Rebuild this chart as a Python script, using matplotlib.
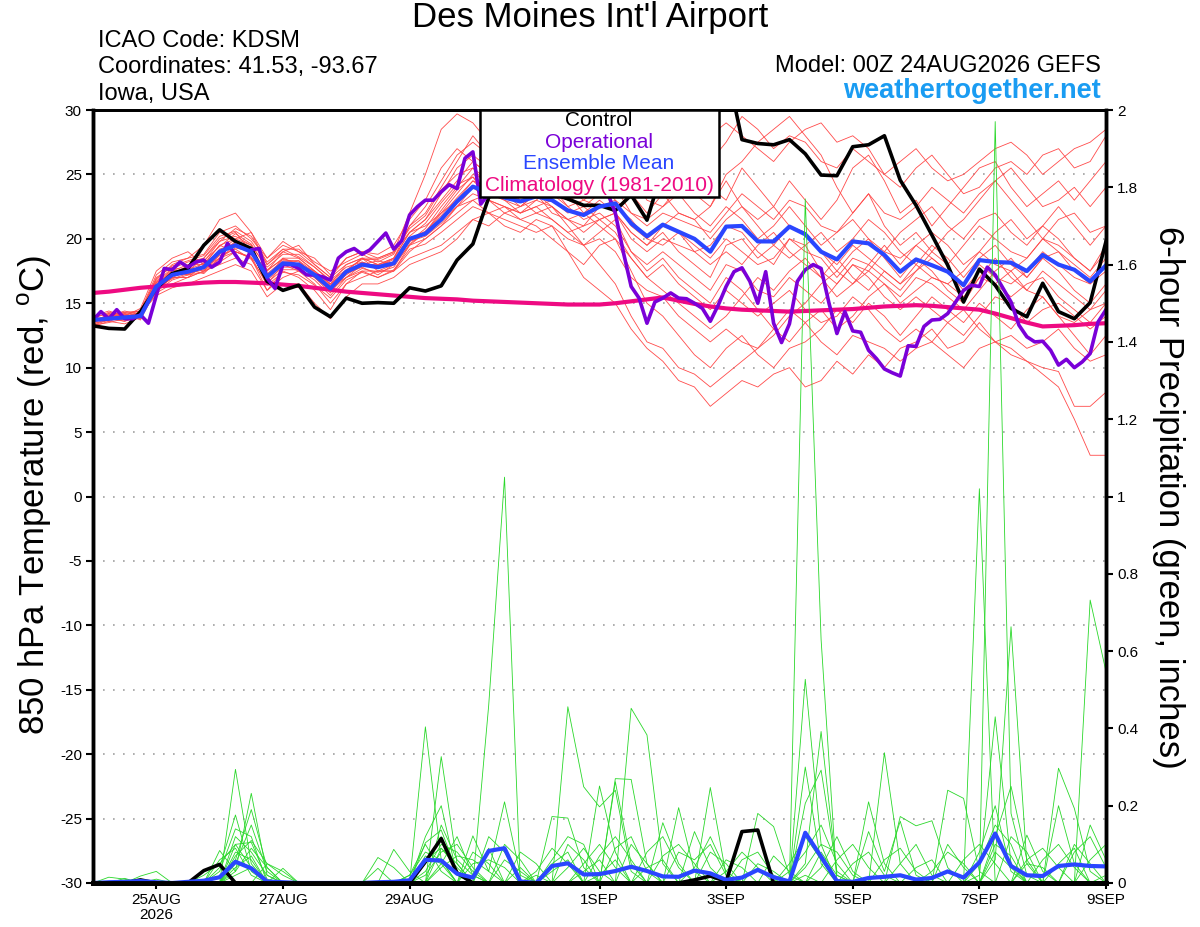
import numpy as np
import pandas as pd
import matplotlib
matplotlib.use('Agg')
import matplotlib.pyplot as plt
from matplotlib.patches import Rectangle

plt.rcParams['font.family'] = ['Liberation Sans', 'DejaVu Sans']
plt.rcParams['axes.unicode_minus'] = False

# 6-hourly ensemble times, 3-hourly operational run
times = pd.date_range('2026-08-24 00:00', periods=65, freq='6h')
times_op = pd.date_range('2026-08-24 00:00', periods=129, freq='3h')

# ensemble member 850 hPa temperature (C)
members_t = [
    [13.5, 14.0, 14.2, 14.4, 16.8, 18.0, 18.5, 19.5, 21.5, 22.0, 20.5, 18.5, 19.5,
     19.0, 18.0, 17.0, 18.5, 19.0, 18.5, 19.0, 22.0, 25.0, 28.5, 29.7, 29.0, 27.5,
     28.0, 27.0, 26.5, 27.5, 26.0, 25.5, 27.0, 26.0, 24.5, 23.5, 25.0, 26.5, 27.0,
     26.0, 27.5, 29.5, 28.5, 27.0, 28.0, 27.5, 26.0, 25.5, 27.0, 26.0, 25.0, 24.0,
     25.5, 26.5, 25.0, 23.5, 24.0, 25.5, 26.0, 25.0, 26.5, 27.0, 25.5, 26.0, 28.0],
    [13.8, 13.6, 14.0, 13.9, 16.0, 17.0, 17.0, 17.5, 18.5, 19.0, 18.5, 16.0, 17.5,
     17.0, 16.0, 14.5, 16.5, 17.5, 17.0, 17.5, 19.0, 20.0, 21.0, 22.5, 23.0, 22.0,
     21.0, 20.5, 21.5, 21.0, 19.0, 17.0, 16.0, 15.0, 13.0, 11.5, 10.5, 9.0, 8.5,
     7.0, 8.0, 9.0, 8.5, 9.5, 10.0, 8.5, 9.0, 10.5, 9.5, 11.0, 10.0, 11.5,
     12.0, 13.0, 11.5, 12.0, 13.5, 12.0, 11.0, 10.5, 10.0, 9.7, 7.0, 7.0, 8.1],
    [13.4, 13.8, 13.6, 14.2, 16.5, 17.5, 18.0, 18.0, 19.5, 20.0, 19.5, 17.0, 18.5,
     18.5, 17.5, 16.5, 17.5, 18.5, 18.0, 18.5, 20.5, 21.0, 22.0, 23.5, 25.0, 24.5,
     24.0, 23.5, 24.0, 23.5, 22.5, 21.5, 22.0, 21.0, 19.0, 17.5, 18.5, 17.0, 16.0,
     15.0, 17.0, 16.0, 14.5, 13.0, 14.5, 13.5, 12.0, 11.0, 12.5, 12.0, 11.5, 10.5,
     11.5, 12.0, 11.0, 10.0, 11.5, 12.0, 11.5, 10.5, 9.5, 8.5, 6.0, 3.2, 3.2],
    [13.9, 14.2, 14.0, 14.3, 17.0, 17.8, 17.5, 18.5, 20.0, 20.5, 19.0, 17.5, 19.0,
     18.5, 17.5, 16.5, 18.0, 18.5, 18.0, 18.5, 21.0, 22.0, 24.0, 26.0, 28.0, 26.5,
     25.5, 26.0, 27.0, 26.0, 25.0, 24.0, 25.5, 26.0, 25.0, 23.0, 22.5, 24.0, 25.5,
     24.0, 23.0, 25.5, 24.0, 22.5, 24.5, 23.0, 21.5, 23.0, 25.5, 26.5, 24.5, 22.0,
     23.0, 21.0, 22.5, 24.0, 25.5, 26.0, 24.0, 22.5, 23.5, 24.5, 23.0, 24.5, 26.0],
    [13.6, 13.9, 14.1, 13.8, 16.2, 17.0, 17.5, 17.8, 18.5, 19.5, 19.0, 16.5, 18.0,
     18.0, 17.0, 16.0, 17.0, 17.5, 17.5, 17.5, 19.5, 20.5, 21.5, 22.5, 23.5, 23.0,
     22.5, 22.0, 22.5, 23.0, 22.0, 22.5, 21.5, 22.0, 20.5, 19.5, 20.5, 19.0, 18.0,
     17.0, 19.5, 20.0, 18.5, 19.5, 21.0, 20.5, 19.0, 17.5, 19.0, 20.0, 18.5, 17.0,
     18.5, 17.5, 16.0, 15.0, 17.0, 16.5, 17.5, 16.0, 17.5, 16.5, 15.5, 14.5, 16.0],
    [13.3, 13.5, 13.8, 14.0, 15.8, 16.5, 17.0, 17.5, 18.0, 18.5, 18.0, 16.0, 17.0,
     17.5, 16.5, 15.0, 16.5, 17.0, 17.5, 17.5, 18.5, 19.0, 19.5, 20.5, 21.5, 21.0,
     22.0, 21.5, 21.0, 20.0, 19.0, 18.0, 19.5, 20.0, 17.5, 15.0, 14.0, 12.5, 11.0,
     10.0, 11.5, 12.5, 11.0, 10.0, 11.5, 12.0, 13.0, 14.5, 13.5, 15.0, 14.0, 12.5,
     14.0, 15.5, 14.5, 13.5, 15.0, 14.0, 13.0, 14.5, 15.5, 14.0, 12.5, 11.0, 12.5],
    [14.0, 14.4, 14.0, 14.6, 17.5, 18.5, 19.0, 18.0, 19.0, 20.0, 20.5, 18.0, 19.0,
     19.5, 18.0, 17.0, 18.0, 18.5, 18.5, 19.0, 20.5, 21.5, 23.0, 24.5, 26.0, 25.0,
     24.0, 24.5, 25.5, 25.0, 24.0, 23.0, 24.0, 25.0, 23.5, 22.0, 23.5, 22.0, 21.5,
     22.5, 25.0, 26.0, 27.5, 28.5, 29.5, 28.0, 26.5, 24.0, 22.0, 23.5, 21.0, 19.5,
     20.5, 19.0, 18.0, 19.5, 21.0, 20.0, 19.0, 18.5, 20.0, 21.5, 22.0, 20.5, 21.0],
    [13.2, 13.6, 13.4, 13.9, 16.0, 17.0, 17.0, 18.0, 19.5, 19.0, 18.5, 17.5, 18.5,
     18.0, 17.5, 16.5, 17.5, 18.5, 17.5, 18.0, 20.0, 20.5, 22.0, 23.0, 24.5, 24.0,
     23.5, 22.5, 23.5, 22.5, 21.5, 21.0, 22.5, 23.0, 21.0, 20.0, 21.0, 20.5, 19.5,
     18.5, 20.0, 19.0, 18.0, 18.5, 20.0, 19.5, 17.5, 16.5, 18.0, 17.5, 16.5, 15.5,
     17.0, 16.5, 15.5, 14.5, 16.0, 17.5, 18.5, 17.0, 18.5, 19.0, 18.0, 17.0, 18.5],
    [13.7, 14.0, 13.7, 14.1, 16.4, 17.3, 17.8, 17.5, 18.8, 19.8, 19.2, 17.0, 18.2,
     18.3, 17.0, 16.2, 17.2, 18.0, 18.0, 18.2, 19.8, 20.8, 22.5, 24.0, 25.5, 24.0,
     23.5, 23.0, 22.0, 22.5, 21.0, 19.5, 18.0, 16.5, 14.0, 12.0, 11.5, 10.0, 9.5,
     8.5, 9.5, 10.5, 11.5, 13.0, 12.0, 13.5, 14.5, 13.0, 14.0, 15.5, 16.5, 15.0,
     16.0, 17.0, 16.5, 15.5, 17.0, 18.5, 17.0, 16.0, 15.5, 14.0, 13.5, 14.5, 15.0],
    [13.5, 14.1, 14.3, 14.0, 16.6, 17.6, 17.2, 18.2, 19.8, 20.2, 19.5, 17.8, 18.8,
     18.8, 17.8, 16.8, 17.8, 18.2, 17.8, 18.5, 20.5, 21.5, 23.5, 25.5, 26.5, 25.5,
     24.5, 24.0, 24.5, 24.0, 23.0, 22.5, 23.5, 24.0, 22.0, 21.0, 22.0, 21.5, 21.0,
     20.5, 22.0, 23.5, 22.5, 21.5, 23.0, 22.5, 21.0, 20.5, 22.0, 23.5, 22.0, 21.5,
     22.5, 24.0, 23.0, 22.0, 23.5, 24.5, 25.5, 24.0, 22.5, 23.0, 24.0, 22.5, 24.0],
    [13.4, 13.7, 13.9, 14.2, 15.6, 16.2, 16.5, 17.0, 17.5, 18.0, 17.5, 15.5, 16.5,
     16.5, 15.0, 13.8, 15.5, 16.5, 16.5, 17.0, 18.0, 18.5, 19.0, 20.0, 21.5, 22.0,
     21.5, 21.0, 20.5, 21.0, 20.0, 19.5, 20.5, 21.5, 19.0, 18.0, 19.0, 18.0, 17.0,
     16.0, 18.0, 17.5, 16.0, 15.5, 17.0, 16.0, 15.0, 16.5, 18.0, 17.0, 15.5, 14.5,
     15.5, 14.5, 13.5, 12.5, 14.0, 15.5, 15.0, 13.5, 14.5, 15.0, 14.0, 13.0, 14.0],
    [13.8, 14.3, 14.1, 14.4, 17.2, 18.2, 18.5, 18.8, 20.5, 21.0, 20.0, 18.5, 19.8,
     19.0, 18.5, 17.2, 18.5, 19.0, 18.8, 19.5, 21.5, 23.0, 25.5, 27.0, 26.0, 25.0,
     26.0, 26.5, 25.5, 26.5, 27.5, 26.0, 27.0, 28.0, 26.5, 25.0, 26.5, 25.0, 23.5,
     22.5, 24.5, 22.5, 21.5, 22.5, 21.0, 20.5, 19.0, 18.0, 19.5, 18.5, 17.5, 16.5,
     18.0, 17.0, 16.5, 17.5, 19.0, 18.0, 17.5, 18.5, 20.0, 19.5, 18.5, 17.5, 19.0],
    [13.6, 13.8, 14.2, 13.7, 16.1, 17.2, 17.6, 17.3, 18.5, 19.3, 19.0, 16.8, 17.8,
     17.8, 17.3, 16.3, 17.0, 18.0, 18.3, 18.0, 19.5, 20.0, 21.0, 22.0, 23.0, 23.5,
     23.0, 22.5, 23.0, 24.0, 22.5, 23.0, 22.5, 22.5, 21.5, 20.0, 19.5, 20.5, 19.0,
     18.0, 19.0, 18.0, 19.5, 20.5, 19.0, 18.0, 17.0, 18.5, 17.0, 16.0, 17.5, 16.5,
     17.5, 18.5, 17.5, 16.5, 18.0, 17.0, 16.5, 17.5, 19.0, 18.0, 17.0, 16.5, 17.5],
    [13.9, 13.7, 14.0, 14.2, 16.3, 17.4, 17.2, 17.8, 19.2, 19.6, 18.8, 17.2, 18.0,
     17.5, 17.0, 15.8, 17.3, 17.8, 17.2, 18.0, 19.8, 20.2, 21.2, 22.5, 24.0, 23.0,
     22.0, 22.5, 23.5, 22.0, 21.5, 22.0, 23.0, 22.0, 20.0, 19.0, 20.0, 19.5, 19.0,
     19.5, 21.0, 20.5, 19.0, 18.0, 20.0, 19.0, 18.5, 17.0, 18.5, 18.0, 17.0, 16.0,
     17.5, 19.0, 20.5, 21.5, 23.0, 24.5, 23.0, 21.5, 20.0, 19.0, 17.5, 16.5, 18.0],
    [13.5, 13.9, 13.6, 14.0, 15.9, 16.8, 17.2, 17.4, 18.2, 19.0, 18.6, 16.4, 17.4,
     17.2, 16.4, 15.4, 16.8, 17.4, 17.0, 17.6, 19.2, 19.6, 20.5, 21.5, 22.5, 22.0,
     22.5, 22.0, 22.5, 21.5, 20.5, 21.0, 21.5, 20.5, 18.5, 17.0, 18.0, 16.5, 15.5,
     14.5, 16.0, 15.0, 14.0, 15.0, 16.0, 14.5, 13.5, 14.0, 15.5, 14.5, 13.0, 12.0,
     13.0, 12.0, 13.5, 14.5, 13.0, 12.0, 12.5, 11.5, 12.0, 13.0, 11.5, 10.5, 11.0],
    [13.7, 14.0, 14.4, 14.1, 16.7, 17.7, 18.2, 18.5, 19.8, 20.8, 20.2, 18.2, 19.2,
     19.2, 18.2, 17.5, 18.2, 18.8, 18.2, 18.8, 21.0, 22.5, 24.5, 26.5, 27.5, 26.5,
     25.0, 25.5, 26.0, 25.5, 25.0, 24.0, 25.0, 24.5, 23.5, 24.0, 25.0, 26.5, 27.5,
     28.0, 29.0, 28.0, 27.0, 26.0, 27.5, 28.5, 29.0, 27.5, 28.0, 27.0, 25.0, 26.0,
     27.0, 25.5, 24.5, 25.0, 26.0, 27.0, 27.5, 26.5, 25.0, 26.0, 27.0, 27.5, 28.5],
    [13.6, 14.1, 13.9, 14.3, 16.9, 17.9, 18.3, 18.7, 20.2, 20.6, 19.8, 18.0, 19.2,
     18.6, 17.8, 16.7, 17.6, 18.4, 18.4, 18.9, 20.8, 21.8, 23.8, 25.0, 25.5, 24.5,
     24.0, 23.0, 23.5, 24.5, 23.5, 22.0, 21.0, 20.0, 18.5, 17.0, 16.0, 15.0, 14.0,
     13.0, 14.0, 15.5, 17.0, 16.0, 17.5, 18.5, 17.0, 15.5, 16.5, 18.0, 19.5, 18.0,
     19.5, 20.5, 19.5, 18.0, 19.0, 20.5, 21.5, 20.0, 21.0, 22.5, 21.0, 19.5, 21.0],
    [13.3, 13.7, 14.1, 13.9, 16.2, 16.9, 17.3, 17.6, 18.7, 19.2, 18.4, 16.6, 17.6,
     17.6, 16.8, 15.6, 17.0, 17.7, 17.4, 17.8, 19.6, 20.5, 22.2, 23.8, 24.8, 23.8,
     23.5, 24.5, 25.5, 24.5, 23.0, 23.5, 24.5, 23.0, 22.0, 21.5, 22.5, 23.5, 22.0,
     21.0, 22.5, 21.5, 20.0, 21.0, 22.5, 21.0, 19.5, 20.5, 21.5, 20.0, 19.0, 18.5,
     19.5, 18.5, 17.5, 16.0, 17.5, 16.5, 15.5, 16.5, 17.0, 15.5, 14.5, 13.5, 15.0],
    [13.9, 13.8, 14.3, 14.4, 16.6, 17.3, 17.9, 18.3, 19.4, 20.4, 19.6, 17.6, 18.4,
     18.2, 17.3, 16.0, 17.4, 18.2, 17.8, 18.4, 20.2, 21.2, 22.8, 24.2, 24.8, 23.0,
     22.5, 21.5, 22.0, 21.5, 20.5, 19.5, 20.0, 19.0, 17.0, 16.0, 15.5, 14.0, 13.0,
     12.0, 13.0, 12.0, 11.5, 12.5, 14.0, 15.0, 16.5, 17.5, 16.5, 17.5, 19.0, 20.5,
     21.5, 22.5, 21.0, 20.0, 21.5, 22.0, 20.5, 19.5, 21.0, 20.0, 18.5, 17.5, 19.5],
    [13.5, 14.2, 13.8, 14.0, 16.4, 17.5, 17.6, 18.1, 19.0, 19.7, 19.3, 17.3, 18.3,
     18.3, 17.4, 16.4, 17.4, 18.1, 17.9, 18.2, 20.0, 20.6, 21.8, 23.2, 24.5, 23.5,
     23.0, 22.0, 23.0, 22.5, 21.5, 20.5, 21.5, 22.0, 20.5, 19.5, 21.0, 22.0, 21.5,
     20.0, 21.5, 22.5, 21.0, 19.5, 18.5, 19.5, 20.5, 19.0, 20.0, 21.5, 20.5, 19.0,
     18.0, 19.5, 18.5, 17.0, 18.5, 19.5, 18.0, 17.0, 18.5, 17.5, 16.0, 15.0, 16.5],
]

# ensemble member 6-hour precipitation (inches), only the non-zero steps
members_p = [
    {1: 0.015, 2: 0.01, 9: 0.294, 10: 0.05, 21: 0.404, 22: 0.06, 30: 0.456, 31: 0.249,
     32: 0.197, 33: 0.24, 34: 0.03, 45: 0.05, 46: 0.392, 47: 0.02, 57: 0.06, 58: 0.663, 59: 0.05},
    {3: 0.018, 4: 0.03, 8: 0.04, 9: 0.176, 10: 0.03, 22: 0.327, 23: 0.05, 25: 0.46, 26: 1.05,
     34: 0.452, 35: 0.383, 36: 0.05, 45: 0.02, 50: 0.337, 51: 0.05, 63: 0.732, 64: 0.547},
    {8: 0.084, 9: 0.03, 10: 0.232, 11: 0.02, 21: 0.104, 22: 0.137, 23: 0.03, 29: 0.172,
     30: 0.168, 31: 0.04, 45: 1.77, 46: 0.63, 56: 0.02, 57: 0.43, 58: 0.05},
    {2: 0.012, 9: 0.06, 10: 0.19, 11: 0.04, 19: 0.087, 20: 0.03, 24: 0.122, 25: 0.03,
     26: 0.21, 27: 0.02, 32: 0.251, 33: 0.08, 45: 0.527, 46: 0.1, 56: 1.02, 61: 0.2, 62: 0.05},
    {7: 0.02, 8: 0.05, 9: 0.1, 10: 0.105, 11: 0.01, 18: 0.066, 19: 0.04, 21: 0.06, 22: 0.09,
     23: 0.04, 33: 0.262, 34: 0.05, 37: 0.195, 38: 0.03, 45: 0.206, 46: 0.292, 47: 0.03,
     57: 1.97, 58: 0.18, 59: 0.02},
    {9: 0.08, 10: 0.06, 18: 0.038, 21: 0.05, 22: 0.12, 23: 0.03, 25: 0.09, 28: 0.02,
     33: 0.27, 34: 0.268, 35: 0.05, 39: 0.247, 40: 0.02, 49: 0.21, 50: 0.05, 54: 0.24,
     55: 0.219, 56: 0.03, 61: 0.297, 62: 0.193, 63: 0.03},
    {9: 0.12, 10: 0.08, 11: 0.02, 20: 0.02, 21: 0.08, 22: 0.06, 24: 0.05, 25: 0.06, 26: 0.04,
     30: 0.1, 31: 0.06, 36: 0.156, 37: 0.05, 42: 0.18, 43: 0.146, 44: 0.02, 51: 0.172,
     52: 0.148, 53: 0.161, 54: 0.04, 59: 0.124, 60: 0.03},
    {8: 0.03, 9: 0.14, 10: 0.12, 12: 0.038, 21: 0.03, 22: 0.1, 23: 0.08, 24: 0.03, 26: 0.06,
     27: 0.03, 29: 0.05, 30: 0.08, 38: 0.133, 39: 0.04, 46: 0.08, 47: 0.02, 49: 0.133,
     50: 0.03, 51: 0.16, 52: 0.02, 57: 0.1, 58: 0.07, 62: 0.08, 63: 0.12, 64: 0.04},
    {4: 0.01, 9: 0.05, 10: 0.15, 11: 0.03, 21: 0.07, 22: 0.05, 25: 0.12, 26: 0.08, 32: 0.07,
     33: 0.12, 34: 0.06, 40: 0.06, 41: 0.04, 44: 0.05, 45: 0.12, 46: 0.06, 53: 0.03,
     54: 0.08, 55: 0.05, 60: 0.06, 61: 0.1, 62: 0.04},
    {9: 0.02, 10: 0.04, 22: 0.15, 23: 0.06, 24: 0.02, 27: 0.04, 29: 0.06, 30: 0.12, 31: 0.1,
     35: 0.08, 36: 0.12, 37: 0.04, 42: 0.05, 43: 0.03, 47: 0.06, 48: 0.1, 49: 0.04,
     56: 0.05, 57: 0.15, 58: 0.1, 63: 0.06, 64: 0.1},
    {8: 0.06, 9: 0.09, 10: 0.02, 21: 0.12, 22: 0.2, 23: 0.02, 31: 0.05, 32: 0.1, 33: 0.04,
     37: 0.08, 38: 0.06, 39: 0.1, 40: 0.02, 44: 0.03, 45: 0.08, 46: 0.15, 47: 0.05,
     55: 0.06, 56: 0.1, 57: 0.05, 59: 0.05, 60: 0.04},
    {3: 0.005, 9: 0.07, 10: 0.11, 11: 0.05, 12: 0.02, 22: 0.04, 23: 0.07, 24: 0.06, 25: 0.03,
     30: 0.04, 31: 0.09, 32: 0.03, 34: 0.1, 35: 0.05, 41: 0.06, 42: 0.08, 43: 0.02,
     50: 0.06, 51: 0.09, 52: 0.03, 58: 0.12, 59: 0.08, 63: 0.15, 64: 0.06},
    {9: 0.04, 10: 0.07, 21: 0.02, 22: 0.08, 23: 0.1, 24: 0.04, 26: 0.1, 27: 0.06, 32: 0.02,
     33: 0.06, 36: 0.07, 37: 0.1, 38: 0.05, 45: 0.04, 46: 0.1, 47: 0.08, 48: 0.02,
     54: 0.1, 55: 0.04, 57: 0.08, 58: 0.04, 61: 0.05, 62: 0.09},
    {9: 0.1, 10: 0.04, 22: 0.09, 23: 0.05, 28: 0.03, 29: 0.09, 30: 0.05, 35: 0.04, 36: 0.06,
     39: 0.08, 40: 0.05, 43: 0.07, 44: 0.03, 48: 0.05, 49: 0.08, 50: 0.02, 56: 0.08,
     57: 0.2, 58: 0.03, 62: 0.1, 63: 0.05},
    {11: 0.05, 12: 0.03, 20: 0.02, 21: 0.1, 22: 0.03, 24: 0.08, 25: 0.05, 29: 0.03, 30: 0.06,
     33: 0.09, 34: 0.12, 35: 0.03, 40: 0.03, 41: 0.08, 42: 0.04, 46: 0.04, 47: 0.12,
     48: 0.03, 52: 0.04, 53: 0.06, 57: 0.12, 58: 0.25, 59: 0.06, 64: 0.02},
    {9: 0.03, 10: 0.09, 11: 0.04, 22: 0.05, 23: 0.12, 24: 0.02, 27: 0.08, 28: 0.05, 31: 0.03,
     32: 0.06, 38: 0.04, 39: 0.12, 40: 0.03, 45: 0.3, 46: 0.05, 51: 0.05, 52: 0.1,
     53: 0.02, 59: 0.06, 60: 0.09, 61: 0.04},
]

control_t = [13.25, 13.05, 13.0, 14.35, 16.15, 17.3, 17.7, 19.5, 20.7, 19.8, 19.25, 16.7, 16.0,
             16.4, 14.7, 13.95, 15.4, 15.0, 15.05, 15.0, 16.2, 15.95, 16.35, 18.35, 19.6, 23.2,
             24.5, 25.0, 24.0, 23.5, 23.1, 22.6, 22.6, 22.2, 23.4, 21.45, 25.5, 28.0, 31.0,
             33.0, 33.5, 27.7, 27.4, 27.3, 27.7, 26.6, 24.95, 24.9, 27.15, 27.3, 28.0, 24.55,
             22.6, 20.3, 17.95, 15.1, 17.65, 16.4, 14.6, 13.95, 16.55, 14.35, 13.8, 15.05, 19.8]

mean_t = [13.7, 13.8, 13.9, 14.0, 16.3, 17.2, 17.45, 17.8, 19.0, 19.5, 19.0, 17.05, 18.1,
          18.0, 17.2, 16.15, 17.45, 18.0, 17.8, 18.1, 20.0, 20.4, 21.5, 22.9, 24.05, 23.6,
          23.2, 22.9, 23.3, 23.0, 22.2, 21.85, 22.5, 22.75, 21.2, 20.2, 21.1, 20.55, 20.0,
          19.0, 20.95, 21.0, 19.8, 19.8, 20.95, 20.35, 19.0, 18.4, 19.8, 19.65, 18.75, 17.45,
          18.4, 17.95, 17.45, 16.4, 18.35, 18.2, 18.15, 17.5, 18.75, 18.0, 17.6, 16.7, 17.95]

clim_t = [15.8, 15.9, 16.05, 16.2, 16.3, 16.4, 16.5, 16.6, 16.65, 16.65, 16.6, 16.55, 16.45,
          16.35, 16.2, 16.05, 15.9, 15.8, 15.7, 15.6, 15.5, 15.4, 15.35, 15.3, 15.2, 15.15,
          15.1, 15.05, 15.0, 14.95, 14.9, 14.9, 14.9, 15.0, 15.15, 15.3, 15.45, 15.2, 14.95,
          14.75, 14.6, 14.5, 14.45, 14.4, 14.35, 14.4, 14.45, 14.5, 14.55, 14.65, 14.75, 14.8,
          14.85, 14.8, 14.7, 14.6, 14.5, 14.2, 13.85, 13.5, 13.2, 13.25, 13.3, 13.4, 13.45]

oper_t = [13.7, 14.35, 13.8, 14.5, 13.8, 13.8, 14.1, 13.45, 15.6, 17.7,
          17.6, 18.2, 17.8, 18.2, 18.35, 17.8, 18.2, 19.65, 18.75, 17.9,
          19.15, 19.25, 16.95, 16.15, 18.0, 18.0, 17.7, 17.2, 17.2, 17.05,
          16.8, 18.5, 19.0, 19.25, 18.8, 19.15, 19.8, 20.45, 19.2, 19.85,
          21.85, 22.5, 23.0, 23.0, 23.65, 24.2, 23.9, 26.25, 26.75, 22.7,
          23.5, 24.0, 24.5, 25.0, 24.5, 24.0, 24.8, 25.5, 25.0, 24.2,
          24.6, 25.2, 24.5, 24.0, 23.8, 23.6, 22.0, 19.0, 16.3, 15.4,
          13.45, 15.1, 15.4, 15.8, 15.4, 15.35, 15.0, 14.6, 13.6, 14.85,
          16.3, 17.45, 17.75, 16.7, 15.0, 17.45, 13.45, 11.95, 13.4, 16.7,
          17.6, 18.0, 17.7, 15.0, 12.65, 14.35, 12.85, 12.75, 11.35, 10.7,
          9.9, 9.6, 9.35, 11.7, 11.65, 13.2, 13.7, 13.75, 14.2, 15.1,
          16.0, 16.4, 16.3, 17.8, 17.2, 16.15, 15.1, 13.3, 12.4, 12.0,
          12.05, 11.35, 10.2, 10.65, 10.0, 10.45, 11.1, 13.55, 14.5]

control_p = {3: 0.008, 7: 0.032, 8: 0.048, 21: 0.055, 22: 0.115, 23: 0.026,
             38: 0.008, 39: 0.018, 40: 0.004, 41: 0.133, 42: 0.137}

mean_p = [0.0, 0.002, 0.003, 0.005, 0.002, 0.0, 0.003, 0.006, 0.015, 0.055, 0.038, 0.004, 0.002,
          0.0, 0.0, 0.0, 0.0, 0.0, 0.002, 0.003, 0.007, 0.06, 0.058, 0.024, 0.014, 0.083,
          0.09, 0.004, 0.0, 0.044, 0.051, 0.022, 0.023, 0.031, 0.042, 0.031, 0.017, 0.016, 0.032,
          0.025, 0.008, 0.014, 0.034, 0.015, 0.004, 0.13, 0.068, 0.005, 0.003, 0.013, 0.016, 0.02,
          0.009, 0.013, 0.03, 0.014, 0.053, 0.128, 0.044, 0.02, 0.018, 0.044, 0.048, 0.044, 0.043]

date_ticks = ['2026-08-25', '2026-08-27', '2026-08-29', '2026-09-01',
              '2026-09-03', '2026-09-05', '2026-09-07', '2026-09-09']
date_labels = ['25AUG\n2026', '27AUG', '29AUG', '1SEP', '3SEP', '5SEP', '7SEP', '9SEP']
temp_ticks = list(range(-30, 31, 5))
precip_ticks = [0, 0.2, 0.4, 0.6, 0.8, 1.0, 1.2, 1.4, 1.6, 1.8, 2.0]
precip_labels = ['0', '0.2', '0.4', '0.6', '0.8', '1', '1.2', '1.4', '1.6', '1.8', '2']


def dense(d):
    a = np.zeros(len(times))
    for k, v in d.items():
        a[k] = v
    return a


W, H = 1200, 927
fig = plt.figure(figsize=(W / 100, H / 100), dpi=100)
ax = fig.add_axes([93 / W, 1 - 883 / H, (1106 - 93) / W, (883 - 110) / H])
ax2 = ax.twinx()

# temperature
ax.yaxis.grid(True, linestyle=(0, (1, 5)), color='#a0a0a0', linewidth=1.2)
ax.set_axisbelow(True)
for m in members_t:
    ax.plot(times, m, color='#ff4a4a', lw=0.6)
ax.plot(times, clim_t, color='#ee0a82', lw=3)
ax.plot(times, control_t, color='black', lw=2.6)
ax.plot(times_op, oper_t, color='#7a00d8', lw=2.6)
ax.plot(times, mean_t, color='#2a46ff', lw=3)

# precipitation
for m in members_p:
    ax2.plot(times, dense(m), color='#2ad82a', lw=0.6)
ax2.plot(times, dense(control_p), color='black', lw=2.6)
ax2.plot(times, mean_p, color='#2a46ff', lw=3)

ax.set_xlim(times[0], times[-1])
ax.set_ylim(-30, 30)
ax2.set_ylim(0, 2)

ax.set_yticks(temp_ticks)
ax.set_yticklabels([str(t) for t in temp_ticks])
ax2.set_yticks(precip_ticks)
ax2.set_yticklabels(precip_labels)
ax.set_xticks(pd.to_datetime(date_ticks))
ax.set_xticklabels(date_labels, fontsize=11, linespacing=1.1)

ax.tick_params(axis='y', direction='out', length=5, width=1.5, labelsize=11, pad=3)
ax.tick_params(axis='x', direction='out', length=4, width=1.5, pad=3)
ax2.tick_params(axis='y', direction='out', length=5, width=1.5, labelsize=11, pad=3)

for a in (ax, ax2):
    a.spines['left'].set_linewidth(2.5)
    a.spines['right'].set_linewidth(2.5)
    a.spines['top'].set_linewidth(2)
    a.spines['bottom'].set_linewidth(3.5)

# legend box
ax2.add_patch(Rectangle((0.382, 0.8875), 0.236, 0.1125, transform=ax2.transAxes,
                        facecolor='white', edgecolor='black', lw=1.8, zorder=10))
legend_items = [('Control', 'black', 0.9858), ('Operational', '#7a00d8', 0.9586),
                ('Ensemble Mean', '#2a46ff', 0.9314), ('Climatology (1981-2010)', '#ee0a82', 0.9017)]
for txt, col, yy in legend_items:
    ax2.text(0.4995, yy, txt, color=col, fontsize=15, ha='center', va='center',
             transform=ax2.transAxes, zorder=11)

# header
fig.text(590 / W, 1 - 18 / H, "Des Moines Int'l Airport", fontsize=25, ha='center', va='center')
fig.text(98 / W, 1 - 47 / H, 'ICAO Code: KDSM', fontsize=17, va='baseline')
fig.text(98 / W, 1 - 73 / H, 'Coordinates: 41.53, -93.67', fontsize=17, va='baseline')
fig.text(98 / W, 1 - 100 / H, 'Iowa, USA', fontsize=17, va='baseline')
fig.text(1101 / W, 1 - 72 / H, 'Model: 00Z 24AUG2026 GEFS', fontsize=17, ha='right', va='baseline')
fig.text(1101 / W, 1 - 98 / H, 'weathertogether.net', fontsize=19.5, ha='right', va='baseline',
         color='#1a9cf2', fontweight='bold')

fig.text(35 / W, 1 - 495 / H, r'850 hPa Temperature (red, $^\mathregular{o}$C)', fontsize=25,
         rotation=90, ha='center', va='center')
fig.text(1168 / W, 1 - 497 / H, '6-hour Precipitation (green, inches)', fontsize=25,
         rotation=270, ha='center', va='center')

fig.savefig('out.png', dpi=100)
